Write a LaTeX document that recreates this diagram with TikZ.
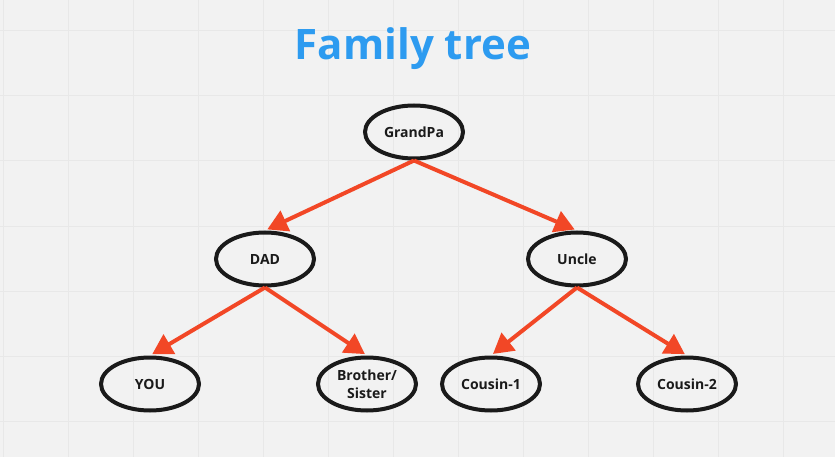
\documentclass[tikz,border=0pt]{standalone}
\usepackage{fontspec}
\setmainfont{Open Sans}
\usetikzlibrary{shapes.geometric,arrows.meta}
\definecolor{bgc}{HTML}{F2F2F2}
\definecolor{gridc}{HTML}{E8E8E8}
\definecolor{titleblue}{HTML}{2D9BF0}
\definecolor{arrowred}{HTML}{F24726}
\definecolor{inkc}{HTML}{1A1A1A}
\tikzset{
  person/.style={ellipse, draw=inkc, line width=4pt, minimum width=98pt, minimum height=53pt,
    inner sep=0pt, text=inkc, font=\fontsize{14}{17.5}\selectfont\bfseries, align=center},
  rel/.style={draw=arrowred, line width=4pt, -{Triangle[length=20pt,width=22pt]}, shorten >=2.5pt}
}
\begin{document}
\begin{tikzpicture}[x=1pt,y=-1pt]
\fill[bgc] (0,0) rectangle (835,457);
\useasboundingbox (0,0) rectangle (835,457);
\foreach \gx in {3,68,...,800} \draw[gridc, line width=1pt] (\gx,0) -- (\gx,457);
\foreach \gy in {31,96,...,457} \draw[gridc, line width=1pt] (0,\gy) -- (835,\gy);
\node[text=titleblue, font=\fontsize{42}{50}\selectfont\bfseries] (title) at (413,49) {Family tree};
\node[person] (gp) at (414,132) {GrandPa};
\node[person] (dad) at (265,259) {DAD};
\node[person] (uncle) at (577,259) {Uncle};
\node[person] (you) at (150,384) {YOU};
\node[person] (bro) at (367,384) {Brother/\\Sister};
\node[person] (c1) at (491,384) {Cousin-1};
\node[person] (c2) at (687,384) {Cousin-2};
\draw[rel] (gp.south) -- (dad.north);
\draw[rel] (gp.south) -- (uncle.north);
\draw[rel] (dad.south) -- (you.north);
\draw[rel] (dad.south) -- (bro.north);
\draw[rel] (uncle.south) -- (c1.north);
\draw[rel] (uncle.south) -- (c2.north);
\end{tikzpicture}
\end{document}
